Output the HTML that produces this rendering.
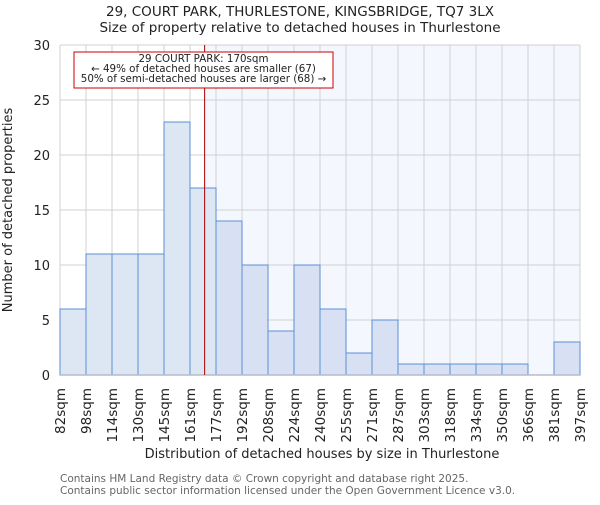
<!DOCTYPE html>
<html><head><meta charset="utf-8"><style>
body{margin:0;background:#fff;width:600px;height:500px;overflow:hidden}
svg text{font-family:"DejaVu Sans","Liberation Sans",sans-serif;fill:#222}
</style></head><body>
<svg id="c" width="600" height="500" xmlns="http://www.w3.org/2000/svg">
<text x="300" y="16" text-anchor="middle" font-size="13.5">29, COURT PARK, THURLESTONE, KINGSBRIDGE, TQ7 3LX</text>
<text x="300" y="32" text-anchor="middle" font-size="13.5">Size of property relative to detached houses in Thurlestone</text>
<text transform="translate(12,210) rotate(-90)" text-anchor="middle" font-size="13">Number of detached properties</text>
<text x="322" y="458" text-anchor="middle" font-size="13">Distribution of detached houses by size in Thurlestone</text>
<text x="60" y="482" font-size="10.5" style="fill:#666">Contains HM Land Registry data © Crown copyright and database right 2025.</text>
<text x="60" y="494" font-size="10.5" style="fill:#666">Contains public sector information licensed under the Open Government Licence v3.0.</text>
</svg>
<script>
const edgeLabels=["82sqm","98sqm","114sqm","130sqm","145sqm","161sqm","177sqm","192sqm","208sqm","224sqm","240sqm","255sqm","271sqm","287sqm","303sqm","318sqm","334sqm","350sqm","366sqm","381sqm","397sqm"];
const edgeValues=[82,98,114,130,145,161,177,192,208,224,240,255,271,287,303,318,334,350,366,381,397];
const counts=[6,11,11,11,23,17,14,10,4,10,6,2,5,1,1,1,1,1,0,3];
const yTicks=[0,5,10,15,20,25,30];
const propertySize=170;
const svg=document.getElementById('c');const NS='http://www.w3.org/2000/svg';
const X0=60,X1=580,Y0=375,Y1=45,YMAX=30;
const n=counts.length,bw=(X1-X0)/n;
const xi=i=>X0+i*bw;
const y=v=>Y0-(v/YMAX)*(Y0-Y1);
function xv(v){for(let i=0;i<edgeValues.length-1;i++){if(v>=edgeValues[i]&&v<=edgeValues[i+1])return xi(i)+(v-edgeValues[i])/(edgeValues[i+1]-edgeValues[i])*bw;}return X1;}
function mk(t,a){const e=document.createElementNS(NS,t);for(const k in a)e.setAttribute(k,a[k]);svg.appendChild(e);return e;}
const px=xv(propertySize);
let e=mk('rect',{x:px,y:Y1,width:X1-px,height:Y0-Y1,fill:'#f4f7fe'});


for(let i=0;i<=n;i++){e=mk('line',{x1:xi(i),x2:xi(i),y1:Y1,y2:Y0,stroke:'#d0d0d0','stroke-width':1});

}
yTicks.forEach(t=>{e=mk('line',{x1:X0,x2:X1,y1:y(t),y2:y(t),stroke:'#d0d0d0','stroke-width':1});


e=mk('text',{x:X0-10,y:y(t)+5,'text-anchor':'end','font-size':13});e.textContent=t;

});
counts.forEach((c,i)=>{if(c<=0)return;
e=mk('rect',{x:xi(i),y:y(c),width:bw,height:Y0-y(c),fill:xi(i)+bw/2<px?'#dde6f3':'#d7e1f3',stroke:'#5b8fd6','stroke-width':1});

});
e=mk('line',{x1:X0,x2:X1,y1:Y0,y2:Y0,stroke:'#b4bccc','stroke-width':1.5});


edgeLabels.forEach((l,i)=>{e=mk('text',{transform:`translate(${xi(i)+5},388) rotate(-90)`,'text-anchor':'end','font-size':13.5});e.textContent=l;

});
e=mk('line',{x1:px,x2:px,y1:Y1,y2:Y0,stroke:'#a00','stroke-width':1});


e=mk('rect',{x:74,y:52,width:259,height:36,fill:'#fff',stroke:'#c00','stroke-width':1});


["29 COURT PARK: 170sqm","← 49% of detached houses are smaller (67)","50% of semi-detached houses are larger (68) →"].forEach((t,k)=>{
e=mk('text',{x:203.5,y:62+k*10,'text-anchor':'middle','font-size':10.3});e.textContent=t;

});
</script>
</body></html>
